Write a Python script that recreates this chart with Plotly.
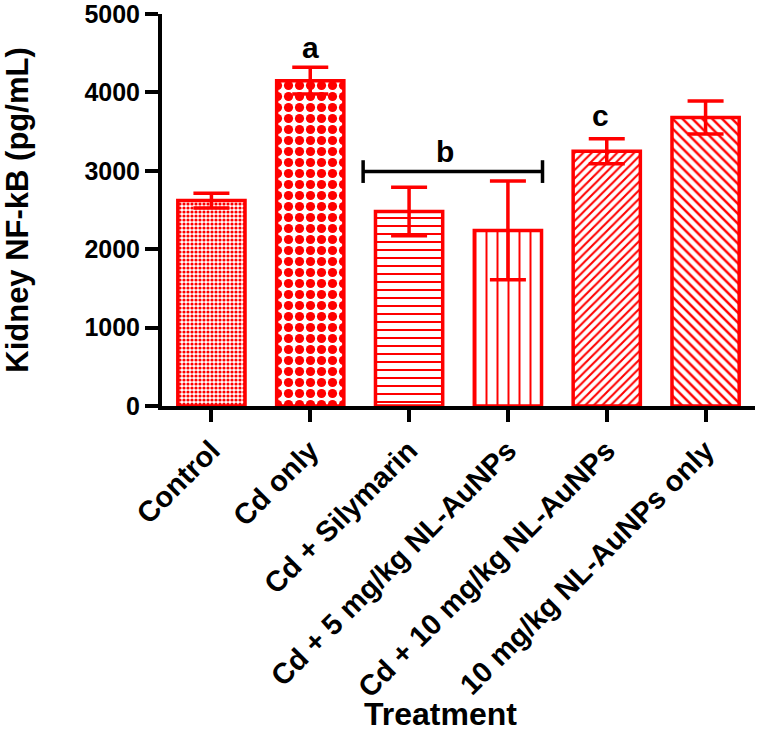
import plotly.graph_objects as go

categories = ["Control", "Cd only", "Cd + Silymarin", "Cd + 5 mg/kg NL-AuNPs",
              "Cd + 10 mg/kg NL-AuNPs", "10 mg/kg NL-AuNPs only"]
means = [2620, 4150, 2480, 2240, 3250, 3680]
errors = [95, 170, 310, 630, 160, 210]
patterns = [".", ".", "-", "|", "/", "\\"]
pattern_sizes = [4, 11, 8, 11, 6, 7]
pattern_solidity = [0.5, 0.55, 0.25, 0.18, 0.35, 0.35]

letters = ["a", "b", "c"]
letter_x = [1, 2.36, 3.94]
letter_y = [4570, 3240, 3700]
bracket_from, bracket_to = 2, 3
bracket_y = 2990

y_ticks = [0, 1000, 2000, 3000, 4000, 5000]
x_title = "Treatment"
y_title = "Kidney NF-kB (pg/mL)"

FONT = "Arial, Liberation Sans, sans-serif"
RED = "#ff0000"

fig = go.Figure()
fig.add_trace(go.Bar(
    x=list(range(len(categories))),
    y=means,
    width=0.68,
    marker=dict(
        color="white",
        line=dict(color=RED, width=3.5),
        pattern=dict(shape=patterns, size=pattern_sizes, solidity=pattern_solidity,
                     fgcolor=RED, bgcolor="white", fillmode="replace"),
    ),
    error_y=dict(type="data", array=errors, visible=True, color=RED,
                 thickness=3.5, width=18),
    showlegend=False,
    hoverinfo="skip",
))

# bracket for group b
bx0, bx1 = bracket_from - 0.465, bracket_to + 0.35
fig.add_shape(type="line", xref="x", yref="y",
              x0=bx0, x1=bx1, y0=bracket_y, y1=bracket_y,
              line=dict(color="black", width=3.5))
for xe in (bx0, bx1):
    fig.add_shape(type="line", xref="x", yref="y", x0=xe, x1=xe,
                  y0=bracket_y - 145, y1=bracket_y + 145,
                  line=dict(color="black", width=3.5))

for t, lx, ly in zip(letters, letter_x, letter_y):
    fig.add_annotation(x=lx, y=ly, text=t, showarrow=False,
                       font=dict(family=FONT, size=30, color="black", weight="bold"))

# x-axis title placed as text below the rotated labels
fig.add_annotation(x=0.469, y=-0.785, xref="paper", yref="paper", text=x_title,
                   showarrow=False, xanchor="center", yanchor="middle",
                   font=dict(family=FONT, size=32, color="black", weight="bold"))

fig.update_layout(
    width=757, height=738,
    margin=dict(l=162, r=2, t=14, b=332),
    plot_bgcolor="white", paper_bgcolor="white",
    font=dict(family=FONT, color="black"),
)
fig.update_xaxes(
    range=[-0.5, 5.5], automargin=False,
    tickmode="array", tickvals=list(range(len(categories))), ticktext=categories,
    tickangle=-45,
    tickfont=dict(family=FONT, size=29, color="black", weight="bold"),
    showline=True, linecolor="black", linewidth=4,
    ticks="outside", ticklen=12, tickwidth=3.5, tickcolor="black",
    showgrid=False, zeroline=False,
)
fig.update_yaxes(
    range=[0, 5000], automargin=False,
    tickmode="array", tickvals=y_ticks,
    tickfont=dict(family=FONT, size=25, color="black", weight="bold"),
    ticklabeloverflow="allow",
    showline=True, linecolor="black", linewidth=4,
    ticks="outside", ticklen=13, tickwidth=3.5, tickcolor="black",
    showgrid=False, zeroline=False,
    title=dict(text=y_title, font=dict(family=FONT, size=31, color="black", weight="bold"),
               standoff=52),
)

fig.write_html("out.html", config={"displayModeBar": False},
               post_script="document.body.style.margin='0';document.body.style.overflow='hidden';")
